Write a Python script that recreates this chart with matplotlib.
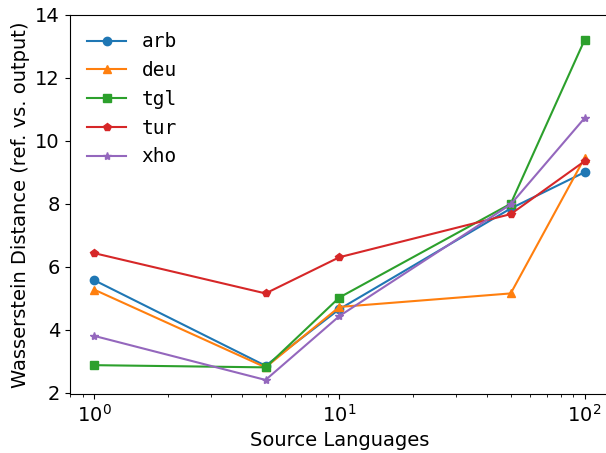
import matplotlib
matplotlib.use("Agg")
import matplotlib.pyplot as plt

# Datos
fuentes = [1, 5, 10, 50, 100]
arb = [5.57, 2.85, 4.65, 7.85, 9.0]
deu = [5.27, 2.80, 4.72, 5.15, 9.45]
tgl = [2.87, 2.80, 5.02, 8.00, 13.2]
tur = [6.43, 5.15, 6.30, 7.67, 9.35]
xho = [3.80, 2.40, 4.43, 7.98, 10.72]

series = [("arb", arb, "o"), ("deu", deu, "^"), ("tgl", tgl, "s"),
          ("tur", tur, "p"), ("xho", xho, "*")]

fig = plt.figure(figsize=(6.06, 4.53), dpi=100)
ax = fig.add_axes([0.115, 0.130, 0.89, 0.837])

for nombre, valores, marcador in series:
    ax.plot(fuentes, valores, marker=marcador, label=nombre)

ax.set_xscale("log")
ax.set_ylim(1.95, 14)
ax.set_yticks([2, 4, 6, 8, 10, 12, 14])
ax.tick_params(labelsize=14)
ax.set_xlabel("Source Languages", fontsize=14)
ax.set_ylabel("Wasserstein Distance (ref. vs. output)", fontsize=14)
# el borde derecho queda recortado en la figura original
ax.spines["right"].set_visible(False)

leg = ax.legend(loc="upper left", frameon=False, prop={"family": "monospace", "size": 14})

plt.savefig("out.png", dpi=100)
